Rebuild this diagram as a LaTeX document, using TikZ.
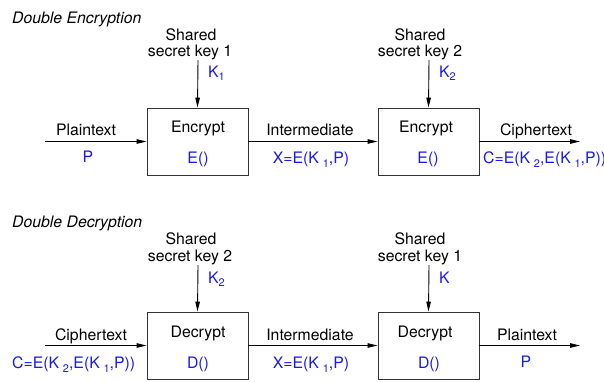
\documentclass[tikz,border=0pt]{standalone}
\usepackage{fontspec}
\setmainfont{TeX Gyre Heros}
\usetikzlibrary{arrows.meta}
\definecolor{lblue}{RGB}{25,25,240}
\newcommand{\lsub}[1]{\hspace{3.8pt}\raisebox{-4.5pt}{\fontsize{11}{11}\selectfont #1}}
\newcommand{\tsub}[1]{\raisebox{-3pt}{\fontsize{11}{11}\selectfont #1}}
\begin{document}
\begin{tikzpicture}[x=1pt,y=-1pt, font=\fontsize{15.8}{16}\selectfont,
  box/.style={draw=black!80, line width=0.9pt, minimum width=101pt, minimum height=67pt, inner sep=0pt},
  conn/.style={line width=0.9pt, -{Triangle[length=10pt,width=4.5pt]}},
  txt/.style={inner sep=0pt, anchor=base},
  txtw/.style={inner sep=0pt, anchor=base west},
  blu/.style={txt, text=lblue},
  bluw/.style={txtw, text=lblue}]
\useasboundingbox (0,0) rectangle (604,381);

% ---------- Double Encryption ----------
\node[txtw, font=\fontsize{15.8}{16}\selectfont\itshape] (t1) at (12,23) {Double Encryption};

\node[box] (e1) at (197.5,141.5) {};
\node[box] (e2) at (428.5,141.5) {};

\node[txt] (e1a) at (198,132) {Encrypt};
\node[blu] (e1b) at (198,163) {E()};
\node[txt] (e2a) at (426,132) {Encrypt};
\node[blu] (e2b) at (428,163) {E()};

\coordinate (pin) at (45,141.5);
\coordinate (cout) at (580,141.5);
\draw[conn] (pin) -- (e1.west);
\draw[conn] (e1.east) -- (e2.west);
\draw[conn] (e2.east) -- (cout);

\node[txt] (l1) at (86,135) {Plaintext};
\node[blu] (l1b) at (88,162) {P};
\node[txt] (l2) at (310,135) {Intermediate};
\node[blu] (l2b) at (311,163) {X=E(K\lsub{1},P)};
\node[txt] (l3) at (536,135) {Ciphertext};
\node[bluw] (l3b) at (483,163) {C=E(K\lsub{2},E(K\lsub{1},P))};

\coordinate (k1) at (198,60);
\coordinate (k2) at (429,60);
\draw[conn] (k1) -- (e1.north);
\draw[conn] (k2) -- (e2.north);
\node[txt] (s1a) at (191,40) {Shared};
\node[txt] (s1b) at (190,56) {secret key 1};
\node[bluw] (s1k) at (208,77) {K\tsub{1}};
\node[txt] (s2a) at (420,40) {Shared};
\node[txt] (s2b) at (420,56) {secret key 2};
\node[bluw] (s2k) at (439,77) {K\tsub{2}};

% ---------- Double Decryption ----------
\node[txtw, font=\fontsize{15.8}{16}\selectfont\itshape] (t2) at (12,227) {Double Decryption};

\node[box] (d1) at (197.5,345.5) {};
\node[box] (d2) at (428.5,345.5) {};

\node[txt] (d1a) at (198,337) {Decrypt};
\node[blu] (d1b) at (198,368) {D()};
\node[txt] (d2a) at (425,337) {Decrypt};
\node[blu] (d2b) at (429,368) {D()};

\coordinate (cin) at (45,345.5);
\coordinate (pout) at (580,345.5);
\draw[conn] (cin) -- (d1.west);
\draw[conn] (d1.east) -- (d2.west);
\draw[conn] (d2.east) -- (pout);

\node[txt] (m1) at (91,340) {Ciphertext};
\node[bluw] (m1b) at (12,368) {C=E(K\lsub{2},E(K\lsub{1},P))};
\node[txt] (m2) at (310,340) {Intermediate};
\node[blu] (m2b) at (311,368) {X=E(K\lsub{1},P)};
\node[txt] (m3) at (527,340) {Plaintext};
\node[blu] (m3b) at (526,367) {P};

\coordinate (k3) at (198,265);
\coordinate (k4) at (429,265);
\draw[conn] (k3) -- (d1.north);
\draw[conn] (k4) -- (d2.north);
\node[txt] (s3a) at (191,244) {Shared};
\node[txt] (s3b) at (190,261) {secret key 2};
\node[bluw] (s3k) at (208,283) {K\tsub{2}};
\node[txt] (s4a) at (420,244) {Shared};
\node[txt] (s4b) at (420,261) {secret key 1};
\node[bluw] (s4k) at (439,283) {K};
\end{tikzpicture}
\end{document}
